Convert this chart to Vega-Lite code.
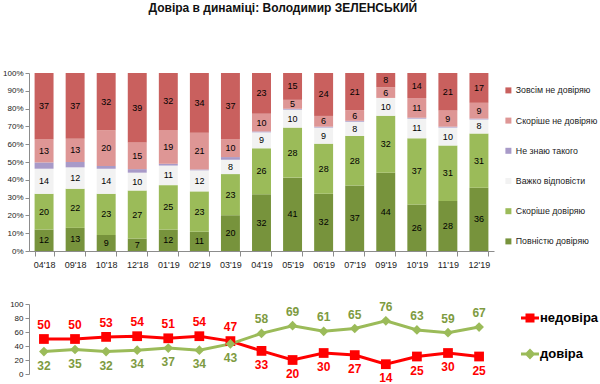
{
  "$schema": "https://vega.github.io/schema/vega-lite/v6.json",
  "background": "white",
  "padding": {"left": 2, "top": 2, "right": 0, "bottom": 0},
  "config": {
    "font": "Liberation Sans",
    "view": {"stroke": null},
    "axis": {"domainColor": "#8c8c8c", "tickColor": "#8c8c8c", "labelColor": "#222222", "labelFont": "Liberation Sans", "grid": false, "title": null, "labelOverlap": false}
  },
  "title": {"text": "Довіра в динаміці: Володимир ЗЕЛЕНСЬКИЙ", "fontSize": 12, "fontWeight": "bold", "anchor": "start", "dx": 146, "offset": 54, "color": "#111111", "font": "Liberation Sans"},
  "datasets": {
    "bars": [
      {"m": "04'18", "s": "Повністю довіряю", "v": 12}, {"m": "04'18", "s": "Скоріше довіряю", "v": 20}, {"m": "04'18", "s": "Важко відповісти", "v": 14}, {"m": "04'18", "s": "Не знаю такого", "v": 3.5}, {"m": "04'18", "s": "Скоріше не довіряю", "v": 13}, {"m": "04'18", "s": "Зовсім не довіряю", "v": 37},
      {"m": "09'18", "s": "Повністю довіряю", "v": 13}, {"m": "09'18", "s": "Скоріше довіряю", "v": 22}, {"m": "09'18", "s": "Важко відповісти", "v": 12}, {"m": "09'18", "s": "Не знаю такого", "v": 3}, {"m": "09'18", "s": "Скоріше не довіряю", "v": 13}, {"m": "09'18", "s": "Зовсім не довіряю", "v": 37},
      {"m": "10'18", "s": "Повністю довіряю", "v": 9}, {"m": "10'18", "s": "Скоріше довіряю", "v": 23}, {"m": "10'18", "s": "Важко відповісти", "v": 14}, {"m": "10'18", "s": "Не знаю такого", "v": 1.5}, {"m": "10'18", "s": "Скоріше не довіряю", "v": 20}, {"m": "10'18", "s": "Зовсім не довіряю", "v": 32},
      {"m": "12'18", "s": "Повністю довіряю", "v": 7}, {"m": "12'18", "s": "Скоріше довіряю", "v": 27}, {"m": "12'18", "s": "Важко відповісти", "v": 10}, {"m": "12'18", "s": "Не знаю такого", "v": 2}, {"m": "12'18", "s": "Скоріше не довіряю", "v": 15}, {"m": "12'18", "s": "Зовсім не довіряю", "v": 39},
      {"m": "01'19", "s": "Повністю довіряю", "v": 12}, {"m": "01'19", "s": "Скоріше довіряю", "v": 25}, {"m": "01'19", "s": "Важко відповісти", "v": 11}, {"m": "01'19", "s": "Не знаю такого", "v": 1}, {"m": "01'19", "s": "Скоріше не довіряю", "v": 19}, {"m": "01'19", "s": "Зовсім не довіряю", "v": 32},
      {"m": "02'19", "s": "Повністю довіряю", "v": 11}, {"m": "02'19", "s": "Скоріше довіряю", "v": 23}, {"m": "02'19", "s": "Важко відповісти", "v": 12}, {"m": "02'19", "s": "Не знаю такого", "v": 0.5}, {"m": "02'19", "s": "Скоріше не довіряю", "v": 21}, {"m": "02'19", "s": "Зовсім не довіряю", "v": 34},
      {"m": "03'19", "s": "Повністю довіряю", "v": 20}, {"m": "03'19", "s": "Скоріше довіряю", "v": 23}, {"m": "03'19", "s": "Важко відповісти", "v": 8}, {"m": "03'19", "s": "Не знаю такого", "v": 1.5}, {"m": "03'19", "s": "Скоріше не довіряю", "v": 10}, {"m": "03'19", "s": "Зовсім не довіряю", "v": 37},
      {"m": "04'19", "s": "Повністю довіряю", "v": 32}, {"m": "04'19", "s": "Скоріше довіряю", "v": 26}, {"m": "04'19", "s": "Важко відповісти", "v": 9}, {"m": "04'19", "s": "Не знаю такого", "v": 0.5}, {"m": "04'19", "s": "Скоріше не довіряю", "v": 10}, {"m": "04'19", "s": "Зовсім не довіряю", "v": 23},
      {"m": "05'19", "s": "Повністю довіряю", "v": 41}, {"m": "05'19", "s": "Скоріше довіряю", "v": 28}, {"m": "05'19", "s": "Важко відповісти", "v": 10}, {"m": "05'19", "s": "Не знаю такого", "v": 0.5}, {"m": "05'19", "s": "Скоріше не довіряю", "v": 5}, {"m": "05'19", "s": "Зовсім не довіряю", "v": 15},
      {"m": "06'19", "s": "Повністю довіряю", "v": 32}, {"m": "06'19", "s": "Скоріше довіряю", "v": 28}, {"m": "06'19", "s": "Важко відповісти", "v": 9}, {"m": "06'19", "s": "Не знаю такого", "v": 0.5}, {"m": "06'19", "s": "Скоріше не довіряю", "v": 6}, {"m": "06'19", "s": "Зовсім не довіряю", "v": 24},
      {"m": "07'19", "s": "Повністю довіряю", "v": 37}, {"m": "07'19", "s": "Скоріше довіряю", "v": 28}, {"m": "07'19", "s": "Важко відповісти", "v": 8}, {"m": "07'19", "s": "Не знаю такого", "v": 0.5}, {"m": "07'19", "s": "Скоріше не довіряю", "v": 6}, {"m": "07'19", "s": "Зовсім не довіряю", "v": 21},
      {"m": "09'19", "s": "Повністю довіряю", "v": 44}, {"m": "09'19", "s": "Скоріше довіряю", "v": 32}, {"m": "09'19", "s": "Важко відповісти", "v": 10}, {"m": "09'19", "s": "Не знаю такого", "v": 0}, {"m": "09'19", "s": "Скоріше не довіряю", "v": 6}, {"m": "09'19", "s": "Зовсім не довіряю", "v": 8},
      {"m": "10'19", "s": "Повністю довіряю", "v": 26}, {"m": "10'19", "s": "Скоріше довіряю", "v": 37}, {"m": "10'19", "s": "Важко відповісти", "v": 11}, {"m": "10'19", "s": "Не знаю такого", "v": 0.5}, {"m": "10'19", "s": "Скоріше не довіряю", "v": 11}, {"m": "10'19", "s": "Зовсім не довіряю", "v": 14},
      {"m": "11'19", "s": "Повністю довіряю", "v": 28}, {"m": "11'19", "s": "Скоріше довіряю", "v": 31}, {"m": "11'19", "s": "Важко відповісти", "v": 10}, {"m": "11'19", "s": "Не знаю такого", "v": 0.5}, {"m": "11'19", "s": "Скоріше не довіряю", "v": 9}, {"m": "11'19", "s": "Зовсім не довіряю", "v": 21},
      {"m": "12'19", "s": "Повністю довіряю", "v": 36}, {"m": "12'19", "s": "Скоріше довіряю", "v": 31}, {"m": "12'19", "s": "Важко відповісти", "v": 8}, {"m": "12'19", "s": "Не знаю такого", "v": 0.5}, {"m": "12'19", "s": "Скоріше не довіряю", "v": 9}, {"m": "12'19", "s": "Зовсім не довіряю", "v": 17}
    ],
    "trust": [
      {"m": "04'18", "недовіра": 50, "довіра": 32},
      {"m": "09'18", "недовіра": 50, "довіра": 35},
      {"m": "10'18", "недовіра": 53, "довіра": 32},
      {"m": "12'18", "недовіра": 54, "довіра": 34},
      {"m": "01'19", "недовіра": 51, "довіра": 37},
      {"m": "02'19", "недовіра": 54, "довіра": 34},
      {"m": "03'19", "недовіра": 47, "довіра": 43},
      {"m": "04'19", "недовіра": 33, "довіра": 58},
      {"m": "05'19", "недовіра": 20, "довіра": 69},
      {"m": "06'19", "недовіра": 30, "довіра": 61},
      {"m": "07'19", "недовіра": 27, "довіра": 65},
      {"m": "09'19", "недовіра": 14, "довіра": 76},
      {"m": "10'19", "недовіра": 25, "довіра": 63},
      {"m": "11'19", "недовіра": 30, "довіра": 59},
      {"m": "12'19", "недовіра": 25, "довіра": 67}
    ]
  },
  "spacing": 31,
  "resolve": {"scale": {"x": "independent", "y": "independent", "color": "independent"}},
  "vconcat": [
    {
      "width": 465,
      "height": 178,
      "data": {"name": "bars"},
      "transform": [
        {"calculate": "indexof(['Повністю довіряю','Скоріше довіряю','Важко відповісти','Не знаю такого','Скоріше не довіряю','Зовсім не довіряю'], datum.s)", "as": "k"},
        {"stack": "v", "groupby": ["m"], "sort": [{"field": "k", "order": "ascending"}], "offset": "normalize", "as": ["y0", "y1"]},
        {"calculate": "(datum.y0 + datum.y1) / 2", "as": "ym"}
      ],
      "encoding": {
        "x": {"field": "m", "type": "nominal", "sort": null, "scale": {"paddingInner": 0.39, "paddingOuter": 0.18},
              "axis": {"labelAngle": 0, "labelFontSize": 9, "tickBand": "extent", "labelPadding": 4, "tickSize": 5}}
      },
      "layer": [
        {
          "mark": {"type": "bar"},
          "encoding": {
            "y": {"field": "y0", "type": "quantitative", "scale": {"domain": [0, 1], "nice": false},
                  "axis": {"format": ".0%", "tickCount": 10, "labelFontSize": 8, "tickSize": 4, "labelOverlap": false, "labelBound": false, "labelFlush": false}},
            "y2": {"field": "y1"},
            "color": {
              "field": "s", "type": "nominal",
              "scale": {"domain": ["Зовсім не довіряю", "Скоріше не довіряю", "Не знаю такого", "Важко відповісти", "Скоріше довіряю", "Повністю довіряю"],
                        "range": ["#C9605E", "#DE9695", "#A89AC8", "#F2F2F2", "#9BBB59", "#77933C"]},
              "legend": {"title": null, "orient": "none", "legendX": 475, "legendY": 13, "symbolType": "square", "symbolSize": 36,
                         "labelFontSize": 8.8, "rowPadding": 20.2, "labelOffset": 3, "labelColor": "#222222", "symbolStrokeWidth": 0}
            }
          }
        },
        {
          "transform": [{"filter": "datum.s != 'Не знаю такого'"}],
          "mark": {"type": "text", "fontSize": 9, "color": "#000000"},
          "encoding": {
            "y": {"field": "ym", "type": "quantitative"},
            "text": {"field": "v", "type": "quantitative"}
          }
        }
      ]
    },
    {
      "width": 465,
      "height": 70,
      "data": {"name": "trust"},
      "encoding": {
        "x": {"field": "m", "type": "ordinal", "sort": null, "scale": {"type": "point", "padding": 0.48}, "axis": null}
      },
      "layer": [
        {
          "transform": [{"fold": ["недовіра", "довіра"], "as": ["key", "val"]}],
          "mark": {"type": "line", "strokeWidth": 3},
          "encoding": {
            "y": {"field": "val", "type": "quantitative", "scale": {"domain": [0, 100], "nice": false},
                  "axis": {"tickCount": 5, "labelFontSize": 8, "tickSize": 4, "labelOverlap": false, "labelBound": false, "labelFlush": false}},
            "color": {
              "field": "key", "type": "nominal",
              "scale": {"domain": ["недовіра", "довіра"], "range": ["#FF0000", "#9BBB59"]},
              "legend": {"title": null, "orient": "none", "legendX": 492, "legendY": 5, "symbolSize": 324, "labelFontSize": 13,
                         "labelFontWeight": "bold", "labelColor": "#000000", "rowPadding": 20, "labelOffset": 1,
                         "symbolType": "M-1,-0.17H1V0.17H-1Z M-0.5,-0.5H0.5V0.5H-0.5Z",
                         "encode": {"symbols": {"update": {
                           "shape": {"signal": "datum.value === 'недовіра' ? 'M-1,-0.17H1V0.17H-1Z M-0.5,-0.5H0.5V0.5H-0.5Z' : 'M-1,-0.17H1V0.17H-1Z M0,-0.6L0.6,0L0,0.6L-0.6,0Z'"},
                           "fill": {"signal": "datum.value === 'недовіра' ? '#FF0000' : '#9BBB59'"},
                           "fillOpacity": {"value": 1},
                           "opacity": {"value": 1},
                           "strokeWidth": {"value": 0},
                           "size": {"value": 324}
                         }}}}
            }
          }
        },
        {
          "mark": {"type": "point", "filled": true, "opacity": 1, "shape": "square", "size": 95, "color": "#FF0000"},
          "encoding": {
            "y": {"field": "недовіра", "type": "quantitative"}
          }
        },
        {
          "mark": {"type": "point", "filled": true, "opacity": 1, "shape": "diamond", "size": 95, "color": "#9BBB59"},
          "encoding": {
            "y": {"field": "довіра", "type": "quantitative"}
          }
        },
        {
          "transform": [{"filter": "datum['недовіра'] >= datum['довіра']"}],
          "mark": {"type": "text", "dy": -14, "fontSize": 12, "fontWeight": "bold", "color": "#FF0000"},
          "encoding": {"y": {"field": "недовіра", "type": "quantitative"}, "text": {"field": "недовіра", "type": "quantitative"}}
        },
        {
          "transform": [{"filter": "datum['недовіра'] < datum['довіра']"}],
          "mark": {"type": "text", "dy": 14, "fontSize": 12, "fontWeight": "bold", "color": "#FF0000"},
          "encoding": {"y": {"field": "недовіра", "type": "quantitative"}, "text": {"field": "недовіра", "type": "quantitative"}}
        },
        {
          "transform": [{"filter": "datum['довіра'] > datum['недовіра']"}],
          "mark": {"type": "text", "dy": -14, "fontSize": 12, "fontWeight": "bold", "color": "#7E9B41"},
          "encoding": {"y": {"field": "довіра", "type": "quantitative"}, "text": {"field": "довіра", "type": "quantitative"}}
        },
        {
          "transform": [{"filter": "datum['довіра'] <= datum['недовіра']"}],
          "mark": {"type": "text", "dy": 14, "fontSize": 12, "fontWeight": "bold", "color": "#7E9B41"},
          "encoding": {"y": {"field": "довіра", "type": "quantitative"}, "text": {"field": "довіра", "type": "quantitative"}}
        }
      ]
    }
  ]
}
